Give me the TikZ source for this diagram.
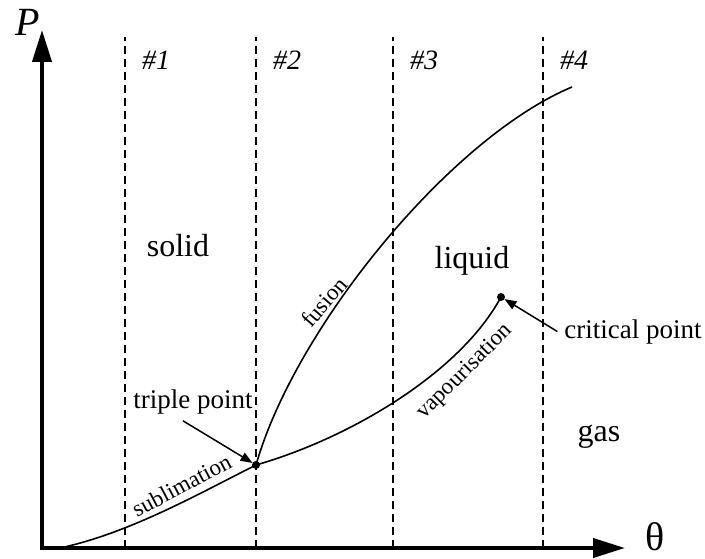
\documentclass[tikz,border=0pt]{standalone}
\usepackage{fontspec}
\setmainfont{Liberation Serif}
\usepackage{tikz}
\usetikzlibrary{arrows.meta,positioning,calc}
\definecolor{diagink}{HTML}{000000}

\begin{document}
\begin{tikzpicture}[x=25pt,y=25pt,
    axis/.style={line width=2pt,diagink,line join=miter},
    phaseline/.style={line width=0.8pt,diagink},
    isoline/.style={line width=0.6pt,dash pattern=on 4pt off 2.5pt},
    pointer/.style={line width=0.75pt,-{Triangle[length=6pt,width=4.5pt]},shorten >=2pt},
    phase/.style={font=\fontsize{16}{19}\selectfont,anchor=base},
    callout/.style={font=\fontsize{13.5}{16}\selectfont,anchor=base},
    curvelbl/.style={font=\fontsize{11.5}{14}\selectfont,inner sep=0pt},
    num/.style={font=\fontsize{14}{17}\selectfont\itshape,anchor=west}]
    \useasboundingbox (0,0) rectangle (14.1,11.16);
    \coordinate (O) at (0.84,0.2);
    \coordinate (ptop) at (0.84,10.56);
    \coordinate (thtop) at (12.5,0.2);
    \coordinate (T) at (5.12,1.86);
    \coordinate (C) at (10.02,5.22);
    \foreach \x/\n in {2.5/1,5.12/2,7.86/3,10.86/4}{
      \draw[isoline] (\x,0.2) -- (\x,10.42);
      \node[num] (iso\n) at (\x+0.2,9.96) {\#\n};
    }
    \draw[axis,{Triangle[length=16pt,width=9.5pt]}-{Triangle[length=16pt,width=9.5pt]}] (ptop) -- (O) -- (thtop);
    \node[font=\fontsize{20}{24}\selectfont\itshape] (plbl) at (0.56,10.72) {P};
    \node[font=\fontsize{20}{24}\selectfont] (thlbl) at (13.1,0.42) {θ};
    \draw[phaseline] (1.2,0.2) .. controls (2.6,0.5) and (4.0,1.3) .. (T);
    \draw[phaseline] (T) .. controls (7.0,2.4) and (9.2,3.7) .. (C);
    \draw[phaseline] (T) .. controls (5.9,4.6) and (9.0,8.4) .. (11.44,9.42);
    \fill (T) circle (2pt);
    \fill (C) circle (2pt);
    \node[curvelbl,rotate=28] (sub) at (3.63,1.45) {sublimation};
    \node[curvelbl,rotate=49] (fus) at (6.48,5.12) {fusion};
    \node[curvelbl,rotate=45] (vap) at (9.3,3.72) {vapourisation};
    \node[phase] (solid) at (3.56,6.04) {solid};
    \node[phase] (liquid) at (9.44,5.8) {liquid};
    \node[phase] (gas) at (11.98,2.34) {gas};
    \node[callout] (tp) at (3.86,3.0) {triple point};
    \node[callout] (cp) at (12.66,4.4) {critical point};
    \draw[pointer] ([xshift=-5pt]tp.south) -- (T);
    \draw[pointer] (cp.west) -- (C);
  \end{tikzpicture}
\end{document}
